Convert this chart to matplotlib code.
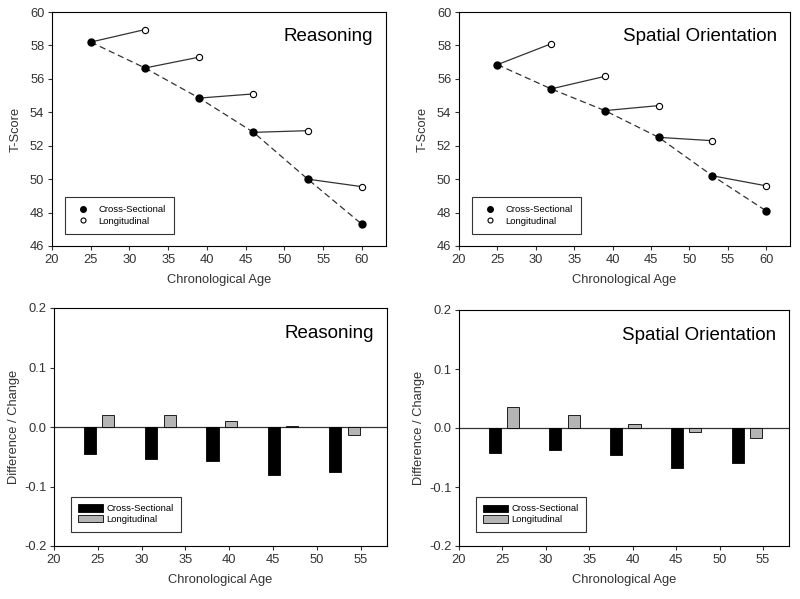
import numpy as np
import matplotlib
matplotlib.use("Agg")
import matplotlib.pyplot as plt

plt.rcParams['font.family'] = ['Liberation Sans', 'DejaVu Sans']

ages = [25, 32, 39, 46, 53, 60]
long_ages = [32, 39, 46, 53, 60]

# T-scores
reas_cross = [58.2, 56.65, 54.85, 52.8, 50.0, 47.3]
reas_long = [58.95, 57.3, 55.1, 52.9, 49.55]
spat_cross = [56.85, 55.4, 54.1, 52.5, 50.2, 48.1]
spat_long = [58.1, 56.15, 54.4, 52.3, 49.6]

# difference / change
bar_ages = [25, 32, 39, 46, 53]
reas_cs_diff = [-0.046, -0.053, -0.057, -0.081, -0.076]
reas_lo_diff = [0.021, 0.020, 0.0095, 0.002, -0.0135]
spat_cs_diff = [-0.042, -0.037, -0.045, -0.067, -0.060]
spat_lo_diff = [0.0356, 0.0226, 0.0074, -0.006, -0.0175]

W, H = 800, 599
fig = plt.figure(figsize=(8, 5.99), dpi=100)

def px_axes(l, r, t, b):
    return fig.add_axes([l / W, (H - b) / H, (r - l) / W, (b - t) / H])

def style(ax):
    ax.tick_params(direction='out', length=3, width=0.8, labelsize=9.3, pad=2.5,
                   top=False, right=False, colors='#333333')
    for s in ax.spines.values():
        s.set_linewidth(0.8)

def line_panel(ax, cross, longi, title):
    ax.plot(ages, cross, ls=(0, (5, 3)), color='#333333', lw=0.9, zorder=2)
    for i in range(len(longi)):
        ax.plot([ages[i], long_ages[i]], [cross[i], longi[i]], color='#333333', lw=0.9, zorder=2)
    ax.plot(ages, cross, 'o', color='black', ms=5, ls='none', zorder=3, label='Cross-Sectional')
    ax.plot(long_ages, longi, 'o', mfc='white', mec='black', mew=0.8, ms=4.5, ls='none',
            zorder=3, label='Longitudinal')
    ax.set_xlim(20, 63.1)
    ax.set_ylim(46, 60)
    ax.set_xticks(range(20, 61, 5))
    ax.set_yticks(range(46, 61, 2))
    ax.set_xlabel('Chronological Age', fontsize=9.3, color='#333333', labelpad=6)
    ax.set_ylabel('T-Score', fontsize=9.3, color='#333333', labelpad=6)
    ax.text(0.96, 0.93, title, transform=ax.transAxes, ha='right', va='top', fontsize=13.5)
    leg = ax.legend(loc='lower left', bbox_to_anchor=(0.04, 0.05), fontsize=6.8, frameon=True,
                    fancybox=False, edgecolor='black', borderpad=0.9, handletextpad=0.6,
                    labelspacing=0.25, markerscale=0.8, borderaxespad=0)
    leg.get_frame().set_linewidth(0.8)
    style(ax)

def bar_panel(ax, cs, lo, title):
    x = np.array(bar_ages)
    ax.axhline(0, color='#333333', lw=0.9, zorder=1)
    ax.bar(x - 0.9, cs, width=1.4, color='black', edgecolor='black', lw=0.6,
           zorder=2, label='Cross-Sectional')
    ax.bar(x + 1.2, lo, width=1.4, color='#b4b4b4', edgecolor='black', lw=0.6,
           zorder=2, label='Longitudinal')
    ax.set_xlim(20, 58)
    ax.set_ylim(-0.2, 0.2)
    ax.set_xticks(range(20, 56, 5))
    ax.set_yticks([-0.2, -0.1, 0.0, 0.1, 0.2])
    ax.set_yticklabels(['-0.2', '-0.1', '0.0', '0.1', '0.2'])
    ax.set_xlabel('Chronological Age', fontsize=9.3, color='#333333', labelpad=6)
    ax.set_ylabel('Difference / Change', fontsize=9.3, color='#333333', labelpad=3)
    ax.text(0.96, 0.93, title, transform=ax.transAxes, ha='right', va='top', fontsize=13.5)
    leg = ax.legend(loc='lower left', bbox_to_anchor=(0.05, 0.06), fontsize=6.8, frameon=True,
                    fancybox=False, edgecolor='black', borderpad=0.8, handletextpad=0.4,
                    labelspacing=0.2, handlelength=2.6, handleheight=0.8, borderaxespad=0)
    leg.get_frame().set_linewidth(0.8)
    style(ax)

ax1 = px_axes(52, 386, 12, 246)
line_panel(ax1, reas_cross, reas_long, 'Reasoning')
ax2 = px_axes(459, 790, 12, 246)
line_panel(ax2, spat_cross, spat_long, 'Spatial Orientation')
ax3 = px_axes(54, 387, 308, 546)
bar_panel(ax3, reas_cs_diff, reas_lo_diff, 'Reasoning')
ax4 = px_axes(459, 789, 310, 546)
bar_panel(ax4, spat_cs_diff, spat_lo_diff, 'Spatial Orientation')

fig.savefig('out.png', dpi=100)
